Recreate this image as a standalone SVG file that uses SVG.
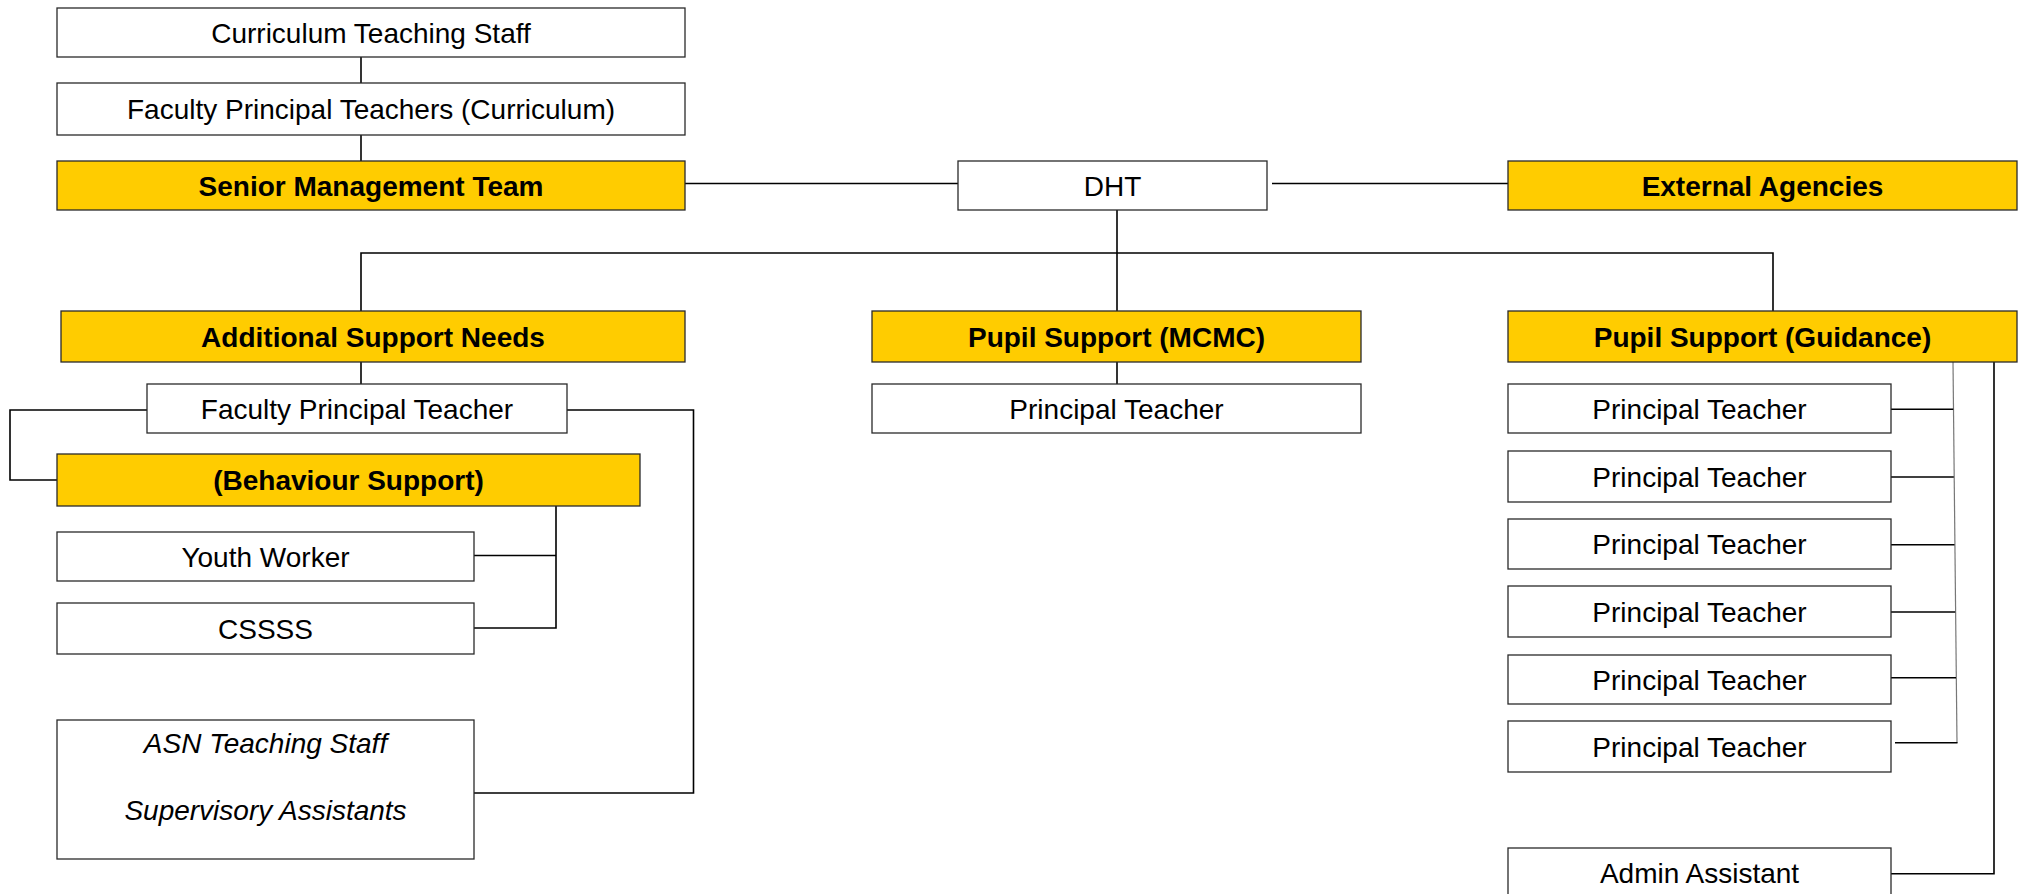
<svg xmlns="http://www.w3.org/2000/svg" width="2019" height="894" viewBox="0 0 2019 894">
<style>
.box{fill:#ffffff;stroke:#2a2a2a;stroke-width:1.3}
.gold{fill:#ffcc00;stroke:#2a2a2a;stroke-width:1.3}
text{font-family:"Liberation Sans",Arial,sans-serif;font-size:28px;fill:#000;text-anchor:middle}
.b{font-weight:bold}
.i{font-style:italic}
.c{fill:none;stroke:#000;stroke-width:1.6}
.g{fill:none;stroke:#777;stroke-width:1.2}
</style>
<rect width="2019" height="894" fill="#fff"/>
<g id="connectors">
<path class="c" d="M361,57V83"/>
<path class="c" d="M361,135V161"/>
<path class="c" d="M685,183.5H958"/>
<path class="c" d="M1272,183.5H1508"/>
<path class="c" d="M1117,210V311"/>
<path class="c" d="M361,311V253H1773V311"/>
<path class="c" d="M1117,362V384"/>
<path class="c" d="M361,362V384"/>
<path class="c" d="M147,410H10V480H57"/>
<path class="c" d="M567,410H693.5V793H474"/>
<path class="c" d="M556,506V628H474"/>
<path class="c" d="M474,555.5H556"/>
<path class="g" d="M1953,362L1957,743"/>
<path class="c" d="M1891,409.3H1953.3"/>
<path class="c" d="M1891,477H1953.8"/>
<path class="c" d="M1891,544.7H1954.5"/>
<path class="c" d="M1891,612H1955.2"/>
<path class="c" d="M1891,677.7H1956"/>
<path class="c" d="M1895,742.7H1957.5"/>
<path class="c" d="M1994,362V873.7H1891"/>
</g>
<g id="curriculum-staff"><rect class="box" x="57" y="8" width="628" height="49"/><text x="371" y="43">Curriculum Teaching Staff</text></g>
<g id="faculty-pt-curriculum"><rect class="box" x="57" y="83" width="628" height="52"/><text x="371" y="119">Faculty Principal Teachers (Curriculum)</text></g>
<g id="smt"><rect class="gold" x="57" y="161" width="628" height="49"/><text class="b" x="371" y="195.5">Senior Management Team</text></g>
<g id="dht"><rect class="box" x="958" y="161" width="309" height="49"/><text x="1112.5" y="195.5">DHT</text></g>
<g id="external"><rect class="gold" x="1508" y="161" width="509" height="49"/><text class="b" x="1762.5" y="195.5">External Agencies</text></g>
<g id="asn"><rect class="gold" x="61" y="311" width="624" height="51"/><text class="b" x="373" y="346.5">Additional Support Needs</text></g>
<g id="mcmc"><rect class="gold" x="872" y="311" width="489" height="51"/><text class="b" x="1116.5" y="346.5">Pupil Support (MCMC)</text></g>
<g id="guidance"><rect class="gold" x="1508" y="311" width="509" height="51"/><text class="b" x="1762.5" y="346.5">Pupil Support (Guidance)</text></g>
<g id="faculty-pt"><rect class="box" x="147" y="384" width="420" height="49"/><text x="357" y="418.5">Faculty Principal Teacher</text></g>
<g id="mcmc-pt"><rect class="box" x="872" y="384" width="489" height="49"/><text x="1116.5" y="418.5">Principal Teacher</text></g>
<g id="behaviour"><rect class="gold" x="57" y="454" width="583" height="52"/><text class="b" x="348.5" y="490">(Behaviour Support)</text></g>
<g id="youth"><rect class="box" x="57" y="532" width="417" height="49"/><text x="265.5" y="566.5">Youth Worker</text></g>
<g id="cssss"><rect class="box" x="57" y="603" width="417" height="51"/><text x="265.5" y="638.5">CSSSS</text></g>
<g id="asn-staff"><rect class="box" x="57" y="720" width="417" height="139"/><text class="i" x="265.5" y="753">ASN Teaching Staff</text><text class="i" x="265.5" y="820">Supervisory Assistants</text></g>
<g id="pt1"><rect class="box" x="1508" y="384" width="383" height="49"/><text x="1699.5" y="418.5">Principal Teacher</text></g>
<g id="pt2"><rect class="box" x="1508" y="451" width="383" height="51"/><text x="1699.5" y="486.5">Principal Teacher</text></g>
<g id="pt3"><rect class="box" x="1508" y="519" width="383" height="50"/><text x="1699.5" y="554">Principal Teacher</text></g>
<g id="pt4"><rect class="box" x="1508" y="586" width="383" height="51"/><text x="1699.5" y="621.5">Principal Teacher</text></g>
<g id="pt5"><rect class="box" x="1508" y="655" width="383" height="49"/><text x="1699.5" y="689.5">Principal Teacher</text></g>
<g id="pt6"><rect class="box" x="1508" y="721" width="383" height="51"/><text x="1699.5" y="756.5">Principal Teacher</text></g>
<g id="admin"><rect class="box" x="1508" y="848" width="383" height="60"/><text x="1699.5" y="883">Admin Assistant</text></g>
</svg>
